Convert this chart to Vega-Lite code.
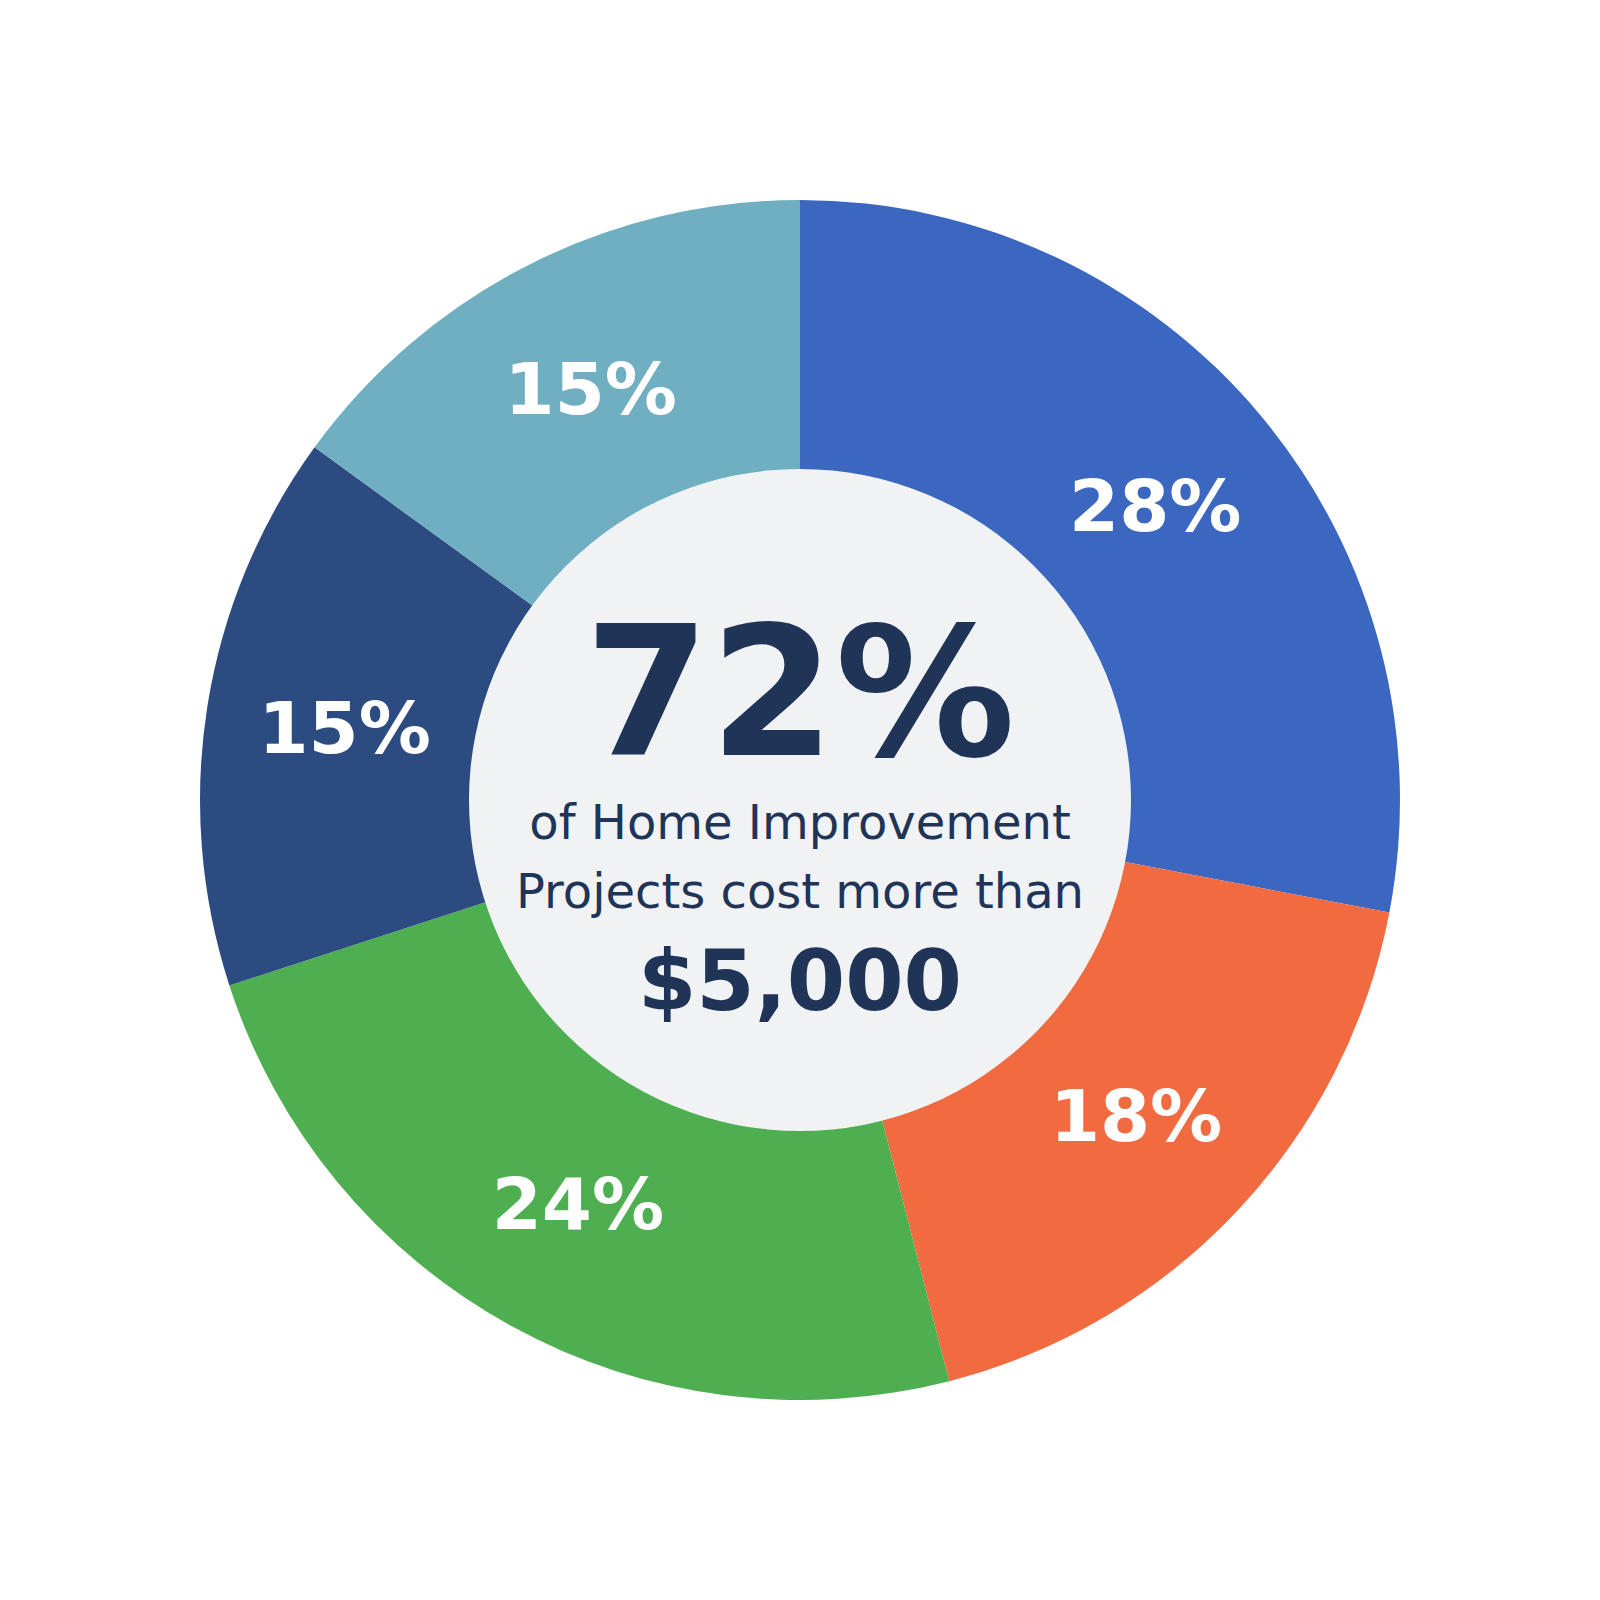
{
  "$schema": "https://vega.github.io/schema/vega-lite/v6.json",
  "width": 1600,
  "height": 1600,
  "autosize": {"type": "fit", "contains": "padding"},
  "padding": 0,
  "background": "#ffffff",
  "view": {"stroke": null},
  "layer": [
    {
      "data": {"values": [
        {"idx": 1, "segment": "A", "value": 28, "label": "28%"},
        {"idx": 2, "segment": "B", "value": 18, "label": "18%"},
        {"idx": 3, "segment": "C", "value": 24, "label": "24%"},
        {"idx": 4, "segment": "D", "value": 15, "label": "15%"},
        {"idx": 5, "segment": "E", "value": 15, "label": "15%"}
      ]},
      "encoding": {
        "theta": {"field": "value", "type": "quantitative", "stack": true},
        "order": {"field": "idx", "type": "quantitative"}
      },
      "layer": [
        {
          "mark": {"type": "arc", "innerRadius": 330, "outerRadius": 600},
          "encoding": {
            "color": {"field": "segment", "type": "nominal", "legend": null,
              "scale": {"domain": ["A", "B", "C", "D", "E"], "range": ["#3B67C1", "#F26B40", "#4EAF50", "#2C4B80", "#70AEC1"]}}
          }
        },
        {
          "mark": {"type": "text", "radius": 461, "dy": 3, "font": "DejaVu Sans", "fontWeight": "bold", "fontSize": 72, "color": "#ffffff", "align": "center", "baseline": "middle"},
          "encoding": {"text": {"field": "label", "type": "nominal"}}
        }
      ]
    },
    {
      "data": {"values": [{"k": "circle"}]},
      "mark": {"type": "arc", "theta": 0, "theta2": 6.2832, "innerRadius": 0, "outerRadius": 331, "color": "#F0F2F4"},
      "encoding": {}
    },
    {
      "data": {"values": [{"t": "72%"}]},
      "mark": {"type": "text", "font": "DejaVu Sans", "fontWeight": "bold", "fontSize": 180, "color": "#203457", "align": "center", "baseline": "alphabetic", "dy": -45},
      "encoding": {"text": {"field": "t", "type": "nominal"}}
    },
    {
      "data": {"values": [{"t": "of Home Improvement"}]},
      "mark": {"type": "text", "font": "DejaVu Sans", "fontSize": 48, "color": "#203457", "align": "center", "baseline": "alphabetic", "dy": 39},
      "encoding": {"text": {"field": "t", "type": "nominal"}}
    },
    {
      "data": {"values": [{"t": "Projects cost more than"}]},
      "mark": {"type": "text", "font": "DejaVu Sans", "fontSize": 48, "color": "#203457", "align": "center", "baseline": "alphabetic", "dy": 108},
      "encoding": {"text": {"field": "t", "type": "nominal"}}
    },
    {
      "data": {"values": [{"t": "$5,000"}]},
      "mark": {"type": "text", "font": "DejaVu Sans", "fontWeight": "bold", "fontSize": 84, "color": "#203457", "align": "center", "baseline": "alphabetic", "dy": 210},
      "encoding": {"text": {"field": "t", "type": "nominal"}}
    }
  ]
}
